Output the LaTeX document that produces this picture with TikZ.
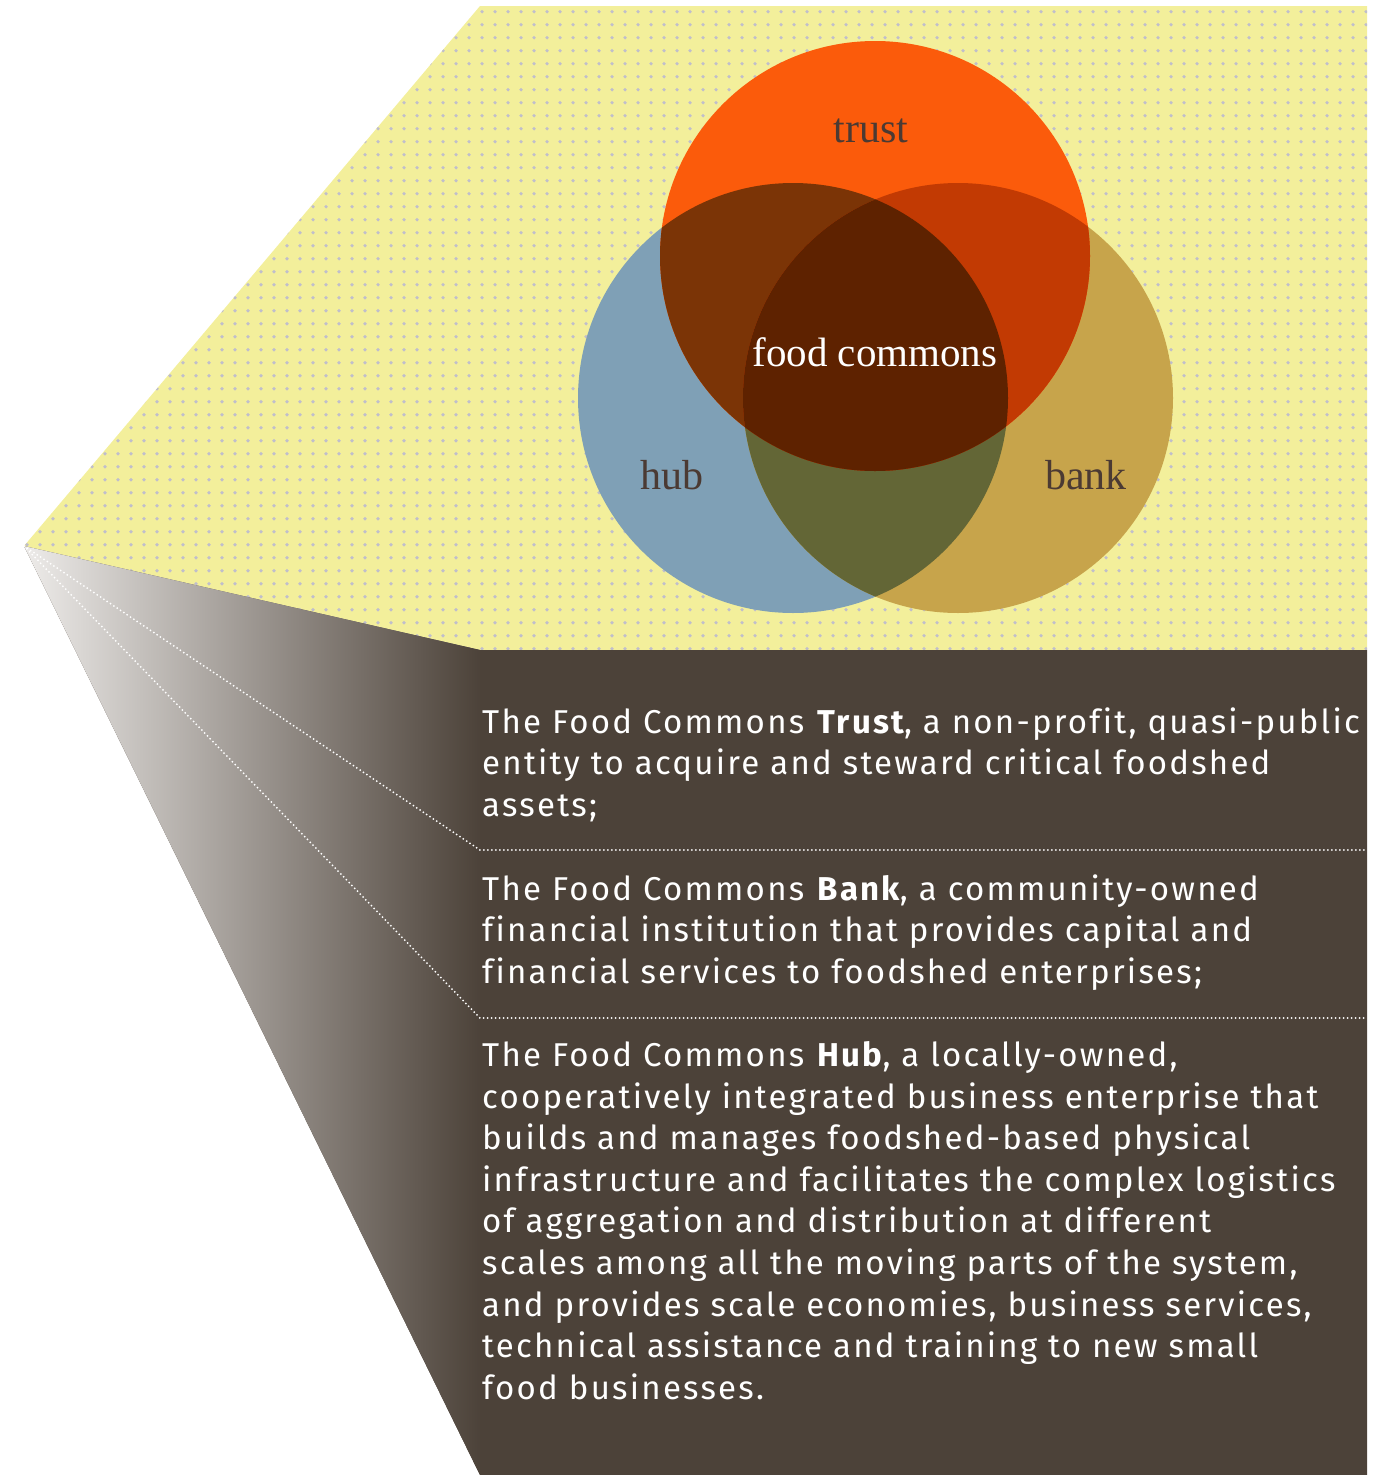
\documentclass[tikz,border=0pt]{standalone}
\usepackage{fontspec}
\setmainfont{Liberation Serif}
\newfontfamily\bodyfont[LetterSpace=6.8,Ligatures=NoCommon]{Fira Sans}
\definecolor{yellowbg}{HTML}{F3EF9B}
\definecolor{dotgray}{HTML}{C0BECB}
\definecolor{brownbg}{HTML}{4C4239}
\definecolor{fadebg}{HTML}{EEECEA}
\definecolor{trustc}{HTML}{FB5B0B}
\definecolor{hubc}{HTML}{7FA0B6}
\definecolor{bankc}{HTML}{C7A44B}
\definecolor{thc}{HTML}{7B3406}
\definecolor{tbc}{HTML}{C23A03}
\definecolor{hbc}{HTML}{636636}
\definecolor{thbc}{HTML}{5E2200}
\definecolor{labelc}{HTML}{4B3A33}
\tikzset{
  bodyline/.style={anchor=base west, inner sep=0pt, text=white, font=\bodyfont\fontsize{33}{41.6}\selectfont},
  vennlabel/.style={anchor=base, inner sep=0pt, text=labelc, font=\fontsize{42}{48}\selectfont},
  sepline/.style={draw=white, line width=2pt, line cap=round, dash pattern=on 0pt off 4pt},
  dotrow/.style={draw=dotgray, line width=3.6pt, line cap=round, dash pattern=on 0pt off 13pt},
}
\begin{document}
\begin{tikzpicture}[x=1pt,y=-1pt]
\useasboundingbox (0,0) rectangle (1378,1475);
\coordinate (apex) at (24,546);
\coordinate (ytl) at (480,6);
\coordinate (ytr) at (1367,6);
\coordinate (ybr) at (1367,650);
\coordinate (ybl) at (480,650);
\coordinate (bbr) at (1367,1475);
\coordinate (bbl) at (480,1475);
% yellow dotted region
\fill[yellowbg] (apex) -- (ytl) -- (ytr) -- (ybr) -- (ybl) -- cycle;
\begin{scope}
  \clip (apex) -- (ytl) -- (ytr) -- (ybr) -- (ybl) -- cycle;
  \foreach \j in {0,...,49} { \draw[dotrow] (27,{11.7+13*\j}) -- (1372,{11.7+13*\j}); }
\end{scope}
% brown region with fade
\fill[brownbg] (apex) -- (ybl) -- (ybr) -- (bbr) -- (bbl) -- cycle;
\begin{scope}
  \clip (apex) -- (ybl) -- (ybr) -- (bbr) -- (bbl) -- cycle;
  \shade[left color=fadebg, right color=brownbg] (22,540) rectangle (481,1476);
\end{scope}
% separators
\coordinate (s1) at (480,850);
\coordinate (s1e) at (1367,850);
\coordinate (s2) at (480,1018);
\coordinate (s2e) at (1367,1018);
\draw[sepline] (apex) -- (s1) -- (s1e);
\draw[sepline] (apex) -- (s2) -- (s2e);
% venn
\coordinate (ct) at (875,256);
\coordinate (ch) at (793,398);
\coordinate (cb) at (958,398);
\def\vr{215}
\fill[hubc] (ch) circle (\vr);
\fill[bankc] (cb) circle (\vr);
\fill[trustc] (ct) circle (\vr);
\begin{scope}
  \clip (ch) circle (\vr);
  \fill[hbc] (cb) circle (\vr);
  \fill[thc] (ct) circle (\vr);
\end{scope}
\begin{scope}
  \clip (cb) circle (\vr);
  \fill[tbc] (ct) circle (\vr);
\end{scope}
\begin{scope}
  \clip (ch) circle (\vr);
  \clip (cb) circle (\vr);
  \fill[thbc] (ct) circle (\vr);
\end{scope}
\node[vennlabel] (ltrust) at (871,142) {trust};
\node[vennlabel] (lhub) at (672,489) {hub};
\node[vennlabel] (lbank) at (1086,489) {bank};
\node[vennlabel, text=white, font=\fontsize{41}{48}\selectfont] (lfood) at (875,366) {food commons};
% text
\node[bodyline] (p1a) at (482,733) {The Food Commons \textbf{Trust}, a non-profit, quasi-public};
\node[bodyline] (p1b) at (482,774.6) {entity to acquire and steward critical foodshed};
\node[bodyline] (p1c) at (482,816.2) {assets;};
\node[bodyline] (p2a) at (482,900) {The Food Commons \textbf{Bank}, a community-owned};
\node[bodyline] (p2b) at (482,941.6) {financial institution that provides capital and};
\node[bodyline] (p2c) at (482,983.2) {financial services to foodshed enterprises;};
\node[bodyline] (p3a) at (482,1066.4) {The Food Commons \textbf{Hub}, a locally-owned,};
\node[bodyline] (p3b) at (482,1108) {cooperatively integrated business enterprise that};
\node[bodyline] (p3c) at (482,1149.6) {builds and manages foodshed-based physical};
\node[bodyline] (p3d) at (482,1191.2) {infrastructure and facilitates the complex logistics};
\node[bodyline] (p3e) at (482,1232.8) {of aggregation and distribution at different};
\node[bodyline] (p3f) at (482,1274.4) {scales among all the moving parts of the system,};
\node[bodyline] (p3g) at (482,1316) {and provides scale economies, business services,};
\node[bodyline] (p3h) at (482,1357.6) {technical assistance and training to new small};
\node[bodyline] (p3i) at (482,1399.2) {food businesses.};
\end{tikzpicture}
\end{document}
